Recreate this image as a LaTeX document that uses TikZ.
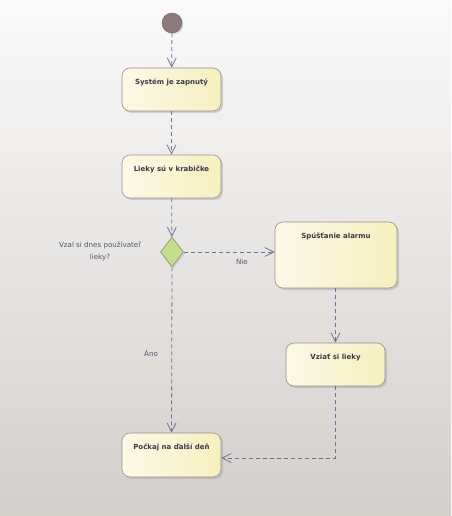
\documentclass[tikz,border=0pt]{standalone}
\usepackage{fontspec}
\setmainfont{DejaVu Sans}
\usetikzlibrary{arrows.meta,shapes.geometric,shadows,calc}
\definecolor{bgtop}{HTML}{FAFAFA}
\definecolor{bgbot}{HTML}{D3CFCB}
\definecolor{boxl}{HTML}{FCF9E6}
\definecolor{boxr}{HTML}{F6EFBF}
\definecolor{boxline}{HTML}{A08C8C}
\definecolor{arrowc}{HTML}{6B7392}
\definecolor{txt}{HTML}{3A3A48}
\definecolor{lbl}{HTML}{55556A}
\definecolor{startc}{HTML}{8E7A7C}
\definecolor{diafill}{HTML}{C3DC8E}
\definecolor{dialine}{HTML}{8C8C70}
\tikzset{
  actbox/.style={draw=boxline, line width=0.6pt, rounded corners=8pt,
    left color=boxl, right color=boxr, shading angle=90,
    drop shadow={shadow xshift=2pt, shadow yshift=-2pt, fill=black!35, opacity=0.45},
    minimum width=99pt, minimum height=43pt, inner sep=0pt},
  boxtext/.style={font=\fontsize{7}{8}\selectfont\bfseries, text=txt, anchor=north},
  flow/.style={draw=arrowc, line width=0.8pt, dash pattern=on 4pt off 3pt,
    -{Straight Barb[length=9pt, width=9pt, line width=0.8pt]}},
  guard/.style={font=\fontsize{7.1}{11.5}\selectfont, text=lbl, align=center},
}
\begin{document}
\begin{tikzpicture}[x=1pt, y=-1pt]
\shade[top color=bgtop, bottom color=bgbot] (0,0) rectangle (451,516);
\useasboundingbox (0,0) rectangle (451,516);

\node[circle, fill=startc, draw=startc!80!black, line width=0.4pt, minimum size=20pt, inner sep=0pt,
  drop shadow={shadow xshift=1.5pt, shadow yshift=-1.5pt, fill=black!30, opacity=0.4}] (start) at (172,23) {};

\node[actbox] (b1) at (171.5,89.5) {};
\node[boxtext] (t1) at ([yshift=-8pt]b1.north) {Systém je zapnutý};

\node[actbox] (b2) at (171.5,176.5) {};
\node[boxtext] (t2) at ([yshift=-8pt]b2.north) {Lieky sú v krabičke};

\node[diamond, aspect=0.77, draw=dialine, line width=0.6pt, fill=diafill,
  minimum width=23pt, minimum height=30pt, inner sep=0pt,
  drop shadow={shadow xshift=1.5pt, shadow yshift=-1.5pt, fill=black!30, opacity=0.4}] (d) at (172,252) {};

\node[actbox, minimum width=122pt, minimum height=66pt] (alarm) at (336,255) {};
\node[boxtext] (t3) at ([yshift=-8pt]alarm.north) {Spúšťanie alarmu};

\node[actbox] (take) at (335.5,364.5) {};
\node[boxtext] (t4) at ([yshift=-8pt]take.north) {Vziať si lieky};

\node[actbox, minimum height=44pt] (wait) at (171.5,455) {};
\node[boxtext] (t5) at ([yshift=-8pt]wait.north) {Počkaj na ďalší deň};

\node[guard] (q) at (100,251.5) {Vzal si dnes používateľ\\lieky?};
\node[guard] (nie) at (242,262) {Nie};
\node[guard] (ano) at (151,353) {Áno};

\draw[flow] (start) -- (b1);
\draw[flow] (b1) -- (b2);
\draw[flow] (b2) -- (d);
\draw[flow] (d.east) -- (d.east -| alarm.west);
\draw[flow] (d.south) -- (wait.north);
\draw[flow] (alarm.south -| take.north) -- (take.north);
\draw[flow] (take.south) |- ([yshift=-3pt]wait.east);
\end{tikzpicture}
\end{document}
